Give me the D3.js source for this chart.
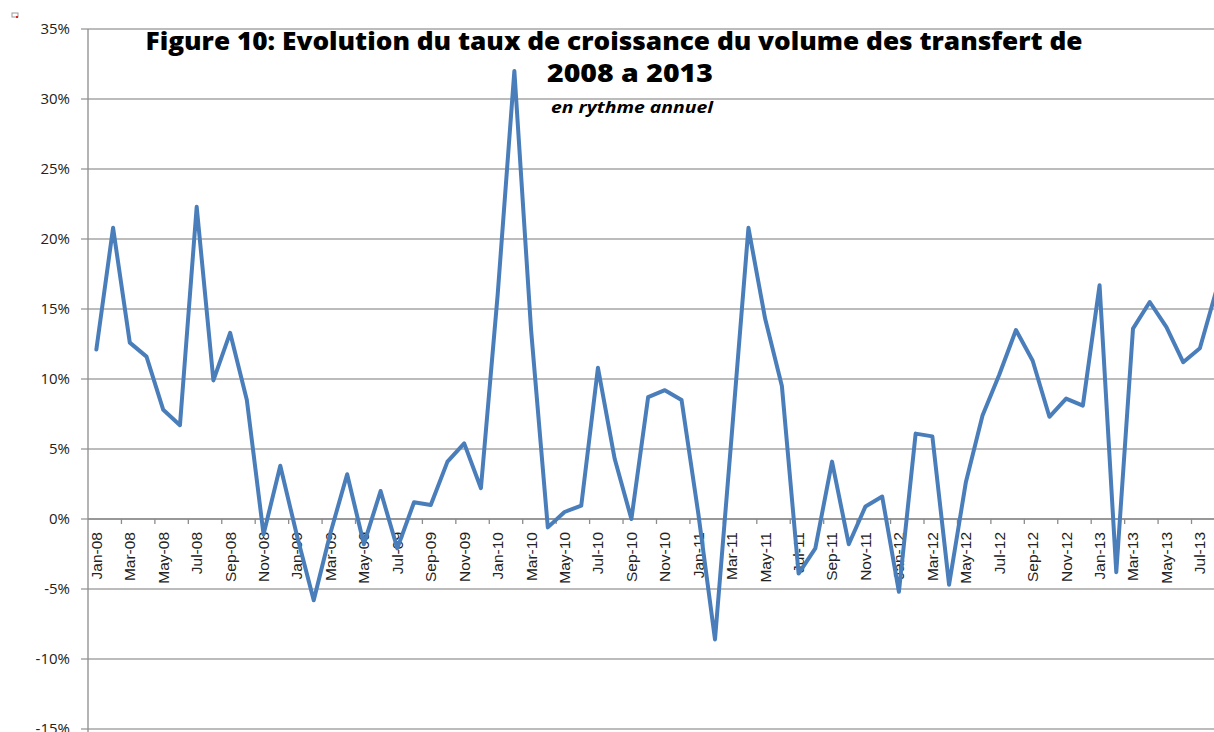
<!DOCTYPE html>
<html>
<head>
<meta charset="utf-8">
<script src="https://cdn.jsdelivr.net/npm/d3@7"></script>
<style>
  html, body { margin: 0; padding: 0; background: #fff; }
  svg { display: block; overflow: hidden; }
</style>
</head>
<body>
<div id="chart"></div>
<script>
const MONTHS = ["Jan", "Feb", "Mar", "Apr", "May", "Jun", "Jul", "Aug", "Sep", "Oct", "Nov", "Dec"];

// Jan-08 .. Aug-13
const categories = [];
for (let y = 8; y <= 13; y++) {
  for (let m = 0; m < 12; m++) {
    if (y === 13 && m > 7) break;
    categories.push(`${MONTHS[m]}-${String(y).padStart(2, "0")}`);
  }
}

// growth rate, in %
const growth = [
  12.1, 20.8, 12.6, 11.6, 7.8, 6.7, 22.3, 9.9, 13.3, 8.5, -1.1, 3.8,
  -1.2, -5.8, -1.0, 3.2, -1.8, 2.0, -2.1, 1.2, 1.0, 4.1, 5.4, 2.2,
  16.0, 32.0, 13.5, -0.6, 0.5, 0.95, 10.8, 4.3, 0.0, 8.7, 9.2, 8.5,
  0.4, -8.6, 6.0, 20.8, 14.3, 9.5, -3.9, -2.1, 4.1, -1.8, 0.9, 1.6,
  -5.2, 6.1, 5.9, -4.7, 2.6, 7.4, 10.3, 13.5, 11.3, 7.3, 8.6, 8.1,
  16.7, -3.8, 13.6, 15.5, 13.7, 11.2, 12.2, 16.4
];

const yTicks = [-15, -10, -5, 0, 5, 10, 15, 20, 25, 30, 35];

const titleLines = ["Figure 10: Evolution du taux de croissance du volume des transfert de", "2008 a 2013"];
const subtitle = "en rythme annuel";

const WIDTH = 1214;
const HEIGHT = 732;
const PLOT_LEFT = 88;
const PLOT_RIGHT = 1214;
const PLOT_TOP = 29;
const PLOT_BOTTOM = 729;
const BAND = 16.72;

const svg = d3.select("#chart")
  .append("svg")
  .attr("width", WIDTH)
  .attr("height", HEIGHT);

const xScale = d3.scaleBand()
  .domain(categories)
  .range([PLOT_LEFT, PLOT_LEFT + BAND * categories.length])
  .paddingInner(0)
  .paddingOuter(0);

const yScale = d3.scaleLinear()
  .domain([-15, 35])
  .range([PLOT_BOTTOM, PLOT_TOP]);

const AXIS_FONT = "'Liberation Sans Narrow', 'Liberation Sans', Arial, sans-serif";
const TITLE_FONT = "'Open Sans', sans-serif";

// gridlines
svg.append("g")
  .selectAll("line")
  .data(yTicks)
  .join("line")
  .attr("x1", PLOT_LEFT - 7)
  .attr("x2", PLOT_RIGHT)
  .attr("y1", d => yScale(d))
  .attr("y2", d => yScale(d))
  .style("stroke", "#a6a6a6")
  .style("stroke-width", 1.3);

// y axis line
svg.append("line")
  .attr("x1", PLOT_LEFT)
  .attr("x2", PLOT_LEFT)
  .attr("y1", PLOT_TOP)
  .attr("y2", HEIGHT)
  .style("stroke", "#8c8c8c")
  .style("stroke-width", 1.3);

// y labels
svg.append("g")
  .selectAll("text")
  .data(yTicks)
  .join("text")
  .attr("x", 70)
  .attr("y", d => yScale(d))
  .attr("dy", "0.35em")
  .attr("text-anchor", "end")
  .style("font-family", TITLE_FONT)
  .style("font-size", "15px")
  .style("fill", "#222")
  .text(d => `${d}%`);

// x axis at 0%
const zeroY = yScale(0);
svg.append("line")
  .attr("x1", PLOT_LEFT)
  .attr("x2", PLOT_RIGHT)
  .attr("y1", zeroY)
  .attr("y2", zeroY)
  .style("stroke", "#8c8c8c")
  .style("stroke-width", 1.3);

svg.append("g")
  .selectAll("line")
  .data(categories.filter((d, i) => i % 2 === 0 && i > 0))
  .join("line")
  .attr("x1", d => xScale(d))
  .attr("x2", d => xScale(d))
  .attr("y1", zeroY)
  .attr("y2", zeroY + 5)
  .style("stroke", "#8c8c8c")
  .style("stroke-width", 1.3);

svg.append("g")
  .selectAll("text")
  .data(categories.filter((d, i) => i % 2 === 0))
  .join("text")
  .attr("transform", d => `translate(${xScale(d) + xScale.bandwidth() / 2}, ${zeroY + 13}) rotate(-90)`)
  .attr("dy", "0.35em")
  .attr("text-anchor", "end")
  .style("font-family", AXIS_FONT)
  .style("font-size", "15.5px")
  .style("fill", "#222")
  .text(d => d);

// series line
const line = d3.line()
  .x((d, i) => xScale(categories[i]) + xScale.bandwidth() / 2)
  .y(d => yScale(d));

svg.append("path")
  .datum(growth)
  .attr("d", line)
  .attr("fill", "none")
  .attr("stroke", "#4a7ebb")
  .attr("stroke-width", 4)
  .attr("stroke-linejoin", "round")
  .attr("stroke-linecap", "round");

// title
svg.append("text")
  .attr("x", 614)
  .attr("y", 50)
  .attr("text-anchor", "middle")
  .style("font-family", TITLE_FONT)
  .style("font-weight", "800")
  .style("font-size", "24px")
  .attr("textLength", 937)
  .attr("lengthAdjust", "spacingAndGlyphs")
  .text(titleLines[0]);

svg.append("text")
  .attr("x", 630)
  .attr("y", 82)
  .attr("text-anchor", "middle")
  .style("font-family", TITLE_FONT)
  .style("font-weight", "800")
  .style("font-size", "25px")
  .attr("textLength", 166)
  .attr("lengthAdjust", "spacingAndGlyphs")
  .text(titleLines[1]);

svg.append("text")
  .attr("x", 632)
  .attr("y", 113)
  .attr("text-anchor", "middle")
  .style("font-family", TITLE_FONT)
  .style("font-weight", "bold")
  .style("font-style", "italic")
  .style("font-size", "16px")
  .attr("textLength", 162)
  .attr("lengthAdjust", "spacingAndGlyphs")
  .text(subtitle);

// small marker in the corner
svg.append("rect")
  .attr("x", 12)
  .attr("y", 13)
  .attr("width", 6)
  .attr("height", 4)
  .attr("fill", "none")
  .attr("stroke", "#999")
  .attr("stroke-width", 1);
svg.append("rect")
  .attr("x", 16)
  .attr("y", 16)
  .attr("width", 2)
  .attr("height", 2)
  .attr("fill", "#e02020");
</script>
</body>
</html>
